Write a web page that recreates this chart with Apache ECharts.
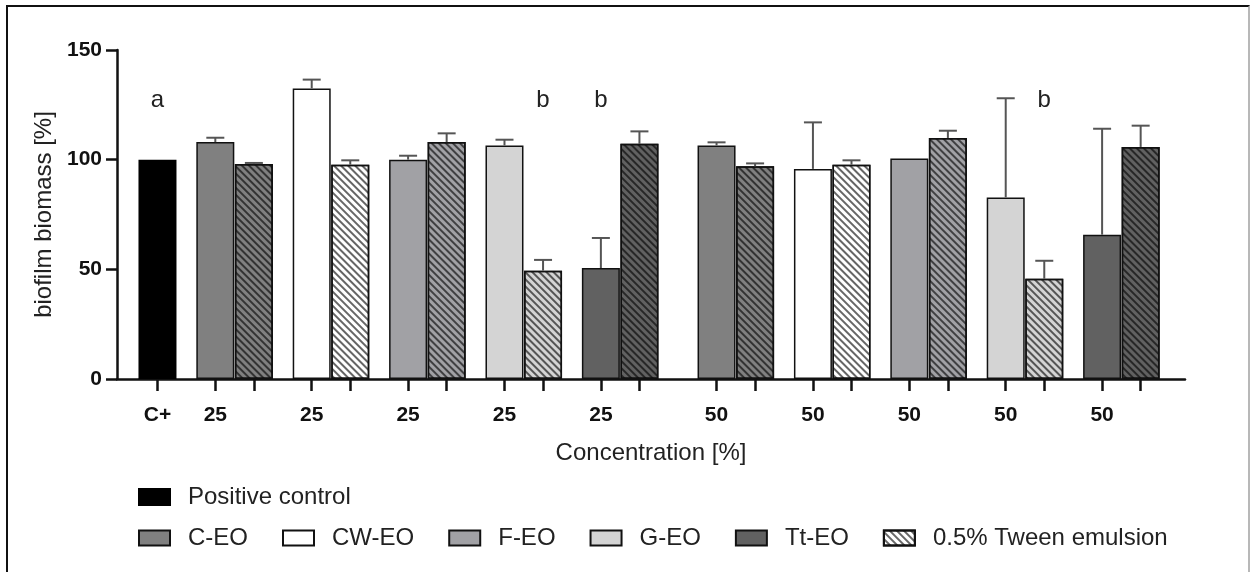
<!DOCTYPE html>
<html>
<head>
<meta charset="utf-8">
<script src="https://cdn.jsdelivr.net/npm/echarts@6/dist/echarts.min.js"></script>
<style>
  html, body { margin: 0; padding: 0; background: #fff; }
  #frame {
    position: absolute; left: 6px; top: 5px; width: 1240px; height: 620px;
    border: 2px solid #111; border-right-color: #b8b8b8;
  }
  #chart { position: absolute; left: 0; top: 0; width: 1253px; height: 572px; }
</style>
</head>
<body>
<div id="frame"></div>
<div id="chart"></div>
<script>
// values (biofilm biomass, % of positive control)
const oils = ['C-EO', 'CW-EO', 'F-EO', 'G-EO', 'Tt-EO'];
const concentrations = ['25', '50'];
const controlLabel = 'C+';
const controlName = 'Positive control';
const tweenName = '0.5% Tween emulsion';
const controlValue = 100;

const eo25 = [108, 132.5, 100, 106.5, 50.6];
const eo25Err = [2, 4, 1.8, 2.6, 13.7];
const tween25 = [98, 97.7, 108, 49.4, 107.2];
const tween25Err = [0.5, 2, 4, 4.9, 5.7];

const eo50 = [106.5, 95.8, 100.5, 82.8, 65.8];
const eo50Err = [1.4, 21.2, 0, 45.2, 48.3];
const tween50 = [97, 97.7, 109.9, 45.7, 105.8];
const tween50Err = [1.3, 2, 3.3, 8.2, 9.7];

// significance letters: [letter, oil index (-1 = control), concentration index, tween?]
const letters = [
  ['a', -1, 0, false],
  ['b', 3, 0, true],
  ['b', 4, 0, false],
  ['b', 3, 1, true]
];

// styling
const oilColors = ['#808080', '#ffffff', '#a1a1a5', '#d4d4d4', '#616161'];
const font = 'Liberation Sans, Arial, sans-serif';
const hatch = {
  symbol: 'rect',
  symbolSize: 1,
  dashArrayX: [1, 0],
  dashArrayY: [1.2, 3],
  rotation: Math.PI / 4,
  color: 'rgba(0,0,0,0.6)'
};

// bar slot on the x scale: C+ at 0, pairs of bars 5 slots apart, extra gap before the 50% block
function slot(oil, conc, tween) {
  if (oil < 0) return 0;
  const center = (conc === 0 ? 4 : 30) + 5 * oil;
  return tween ? center + 1 : center - 1;
}

const values = [eo25, eo50];
const errs = [eo25Err, eo50Err];
const tValues = [tween25, tween50];
const tErrs = [tween25Err, tween50Err];

const series = [];
const errData = [];
const tickValues = [slot(-1)];
const labelMap = {};
labelMap[slot(-1)] = controlLabel;

series.push({
  name: controlName,
  type: 'bar',
  barWidth: 38,
  barGap: '-100%',
  itemStyle: { color: '#000', borderColor: '#000', borderWidth: 1.5 },
  data: [[slot(-1), controlValue]]
});

oils.forEach((oil, i) => {
  const data = [];
  concentrations.forEach((c, k) => {
    const xp = slot(i, k, false);
    const xt = slot(i, k, true);
    data.push([xp, values[k][i]]);
    data.push({ value: [xt, tValues[k][i]], itemStyle: { decal: hatch } });
    if (errs[k][i] > 0) errData.push([xp, values[k][i], errs[k][i]]);
    if (tErrs[k][i] > 0) errData.push([xt, tValues[k][i], tErrs[k][i]]);
    tickValues.push(xp, xt);
    labelMap[xp] = c;
  });
  series.push({
    name: oil,
    type: 'bar',
    barWidth: 38,
    barGap: '-100%',
    itemStyle: { color: oilColors[i], borderColor: '#111', borderWidth: 1.5 },
    data: data
  });
});

// legend-only entry for the hatched bars
series.push({
  name: tweenName,
  type: 'bar',
  barWidth: 38,
  barGap: '-100%',
  itemStyle: { color: '#fff', borderColor: '#111', borderWidth: 1.5, decal: hatch },
  data: []
});

series.push({
  type: 'custom',
  z: 5,
  data: errData,
  renderItem: function (params, api) {
    const x = api.value(0), v = api.value(1), e = api.value(2);
    const p0 = api.coord([x, v]);
    const p1 = api.coord([x, v + e]);
    const st = { stroke: '#555', lineWidth: 2 };
    return {
      type: 'group',
      children: [
        { type: 'line', shape: { x1: p0[0], y1: p0[1], x2: p1[0], y2: p1[1] }, style: st },
        { type: 'line', shape: { x1: p1[0] - 9, y1: p1[1], x2: p1[0] + 9, y2: p1[1] }, style: st }
      ]
    };
  }
});

series.push({
  type: 'custom',
  z: 6,
  data: letters.map(l => [slot(l[1], l[2], l[3]), 127, l[0]]),
  renderItem: function (params, api) {
    const p = api.coord([api.value(0), api.value(1)]);
    return {
      type: 'text',
      x: p[0],
      y: p[1],
      style: {
        text: letters[params.dataIndex][0],
        font: '24px ' + font,
        fill: '#222',
        align: 'center',
        verticalAlign: 'middle'
      }
    };
  }
});

const legendText = { fontFamily: font, fontSize: 24, color: '#222', padding: [0, 0, 0, 13] };

const chart = echarts.init(document.getElementById('chart'));
chart.setOption({
  animation: false,
  textStyle: { fontFamily: font },
  grid: { left: 117, right: 68, top: 50, bottom: 193 },
  legend: [
    {
      data: [controlName],
      left: 133, top: 480, icon: 'rect', itemWidth: 31, itemHeight: 16,
      textStyle: legendText
    },
    {
      data: oils.concat([tweenName]),
      left: 133, top: 521, icon: 'rect', itemWidth: 31, itemHeight: 15, itemGap: 34,
      textStyle: legendText
    }
  ],
  xAxis: {
    type: 'value',
    min: -2.1,
    max: 53.3,
    name: 'Concentration [%]',
    nameLocation: 'middle',
    nameGap: 62,
    nameTextStyle: { fontSize: 24, color: '#222', fontFamily: font },
    splitLine: { show: false },
    axisLine: { onZero: false, lineStyle: { color: '#111', width: 2.5 } },
    axisTick: { show: true, length: 12, lineStyle: { color: '#111', width: 2.5 }, customValues: tickValues },
    axisLabel: {
      customValues: Object.keys(labelMap).map(Number),
      formatter: v => labelMap[v] || '',
      margin: 26,
      fontSize: 21,
      fontWeight: 'bold',
      color: '#111'
    }
  },
  yAxis: {
    type: 'value',
    min: 0,
    max: 150,
    interval: 50,
    name: 'biofilm biomass [%]',
    nameLocation: 'middle',
    nameGap: 60,
    nameTextStyle: { fontSize: 24, color: '#222', fontFamily: font },
    splitLine: { show: false },
    axisLine: { show: true, onZero: false, lineStyle: { color: '#111', width: 2.5 } },
    axisTick: { show: true, length: 11, lineStyle: { color: '#111', width: 2.5 } },
    axisLabel: { margin: 15, fontSize: 21, fontWeight: 'bold', color: '#111' }
  },
  series: series
});
</script>
</body>
</html>
